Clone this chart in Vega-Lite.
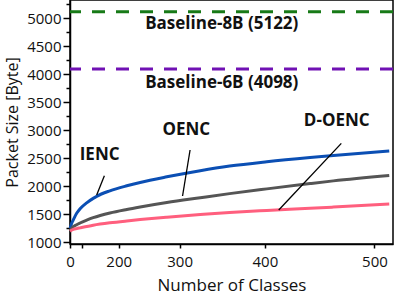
{
  "$schema": "https://vega.github.io/schema/vega-lite/v6.json",
  "width": 323,
  "height": 244,
  "autosize": "none",
  "padding": {"left": 70, "top": 0, "right": 2, "bottom": 54},
  "config": {
    "font": "Open Sans",
    "view": {"stroke": "#000", "strokeWidth": 1.5},
    "axis": {
      "grid": false,
      "domainColor": "#000",
      "domainWidth": 1.5,
      "tickColor": "#000",
      "tickWidth": 1.5,
      "labelColor": "#111",
      "titleColor": "#111",
      "labelFontSize": 15,
      "titleFontSize": 16,
      "titleFontWeight": "normal",
      "labelFlush": false,
      "labelOverlap": false
    }
  },
  "datasets": {
    "curves": [
      {"series": "IENC", "x": 2, "y": 1250},
      {"series": "IENC", "x": 24, "y": 1279},
      {"series": "IENC", "x": 37, "y": 1340},
      {"series": "IENC", "x": 52, "y": 1400},
      {"series": "IENC", "x": 74, "y": 1519},
      {"series": "IENC", "x": 91, "y": 1600},
      {"series": "IENC", "x": 117, "y": 1705},
      {"series": "IENC", "x": 138, "y": 1785},
      {"series": "IENC", "x": 148, "y": 1822},
      {"series": "IENC", "x": 181, "y": 1920},
      {"series": "IENC", "x": 216, "y": 2010},
      {"series": "IENC", "x": 240, "y": 2070},
      {"series": "IENC", "x": 282, "y": 2170},
      {"series": "IENC", "x": 327, "y": 2280},
      {"series": "IENC", "x": 362, "y": 2362},
      {"series": "IENC", "x": 402, "y": 2440},
      {"series": "IENC", "x": 444, "y": 2516},
      {"series": "IENC", "x": 465, "y": 2553},
      {"series": "IENC", "x": 512, "y": 2632},
      {"series": "OENC", "x": 2, "y": 1212},
      {"series": "OENC", "x": 24, "y": 1228},
      {"series": "OENC", "x": 37, "y": 1248},
      {"series": "OENC", "x": 52, "y": 1279},
      {"series": "OENC", "x": 74, "y": 1315},
      {"series": "OENC", "x": 91, "y": 1345},
      {"series": "OENC", "x": 117, "y": 1395},
      {"series": "OENC", "x": 138, "y": 1440},
      {"series": "OENC", "x": 181, "y": 1525},
      {"series": "OENC", "x": 216, "y": 1588},
      {"series": "OENC", "x": 240, "y": 1632},
      {"series": "OENC", "x": 282, "y": 1712},
      {"series": "OENC", "x": 327, "y": 1797},
      {"series": "OENC", "x": 362, "y": 1870},
      {"series": "OENC", "x": 402, "y": 1955},
      {"series": "OENC", "x": 444, "y": 2050},
      {"series": "OENC", "x": 465, "y": 2098},
      {"series": "OENC", "x": 512, "y": 2194},
      {"series": "D-OENC", "x": 2, "y": 1200},
      {"series": "D-OENC", "x": 24, "y": 1208},
      {"series": "D-OENC", "x": 52, "y": 1230},
      {"series": "D-OENC", "x": 74, "y": 1245},
      {"series": "D-OENC", "x": 91, "y": 1258},
      {"series": "D-OENC", "x": 138, "y": 1305},
      {"series": "D-OENC", "x": 181, "y": 1348},
      {"series": "D-OENC", "x": 216, "y": 1382},
      {"series": "D-OENC", "x": 240, "y": 1406},
      {"series": "D-OENC", "x": 282, "y": 1448},
      {"series": "D-OENC", "x": 327, "y": 1495},
      {"series": "D-OENC", "x": 362, "y": 1533},
      {"series": "D-OENC", "x": 402, "y": 1570},
      {"series": "D-OENC", "x": 444, "y": 1608},
      {"series": "D-OENC", "x": 465, "y": 1630},
      {"series": "D-OENC", "x": 512, "y": 1685}
    ],
    "baselines": [
      {"series": "Baseline-8B", "y": 5122},
      {"series": "Baseline-6B", "y": 4098}
    ],
    "annots": [
      {"label": "IENC", "x": 148, "y": 1846},
      {"label": "IENC", "x": 168, "y": 2190},
      {"label": "OENC", "x": 304, "y": 1828},
      {"label": "OENC", "x": 314, "y": 2650},
      {"label": "D-OENC", "x": 414, "y": 1578},
      {"label": "D-OENC", "x": 472, "y": 2769}
    ],
    "labels": [
      {"text": "IENC", "x": 156, "y": 2560},
      {"text": "OENC", "x": 309, "y": 3007},
      {"text": "D-OENC", "x": 468, "y": 3168},
      {"text": "Baseline-8B (5122)", "x": 353, "y": 4910},
      {"text": "Baseline-6B (4098)", "x": 353, "y": 3850}
    ],
    "minor": [
      {"y": 1250}, {"y": 1750}, {"y": 2250}, {"y": 2750}, {"y": 3250},
      {"y": 3750}, {"y": 4250}, {"y": 4750}, {"y": 5250}
    ]
  },
  "layer": [
    {
      "encoding": {
        "x": {
          "field": "x",
          "type": "quantitative",
          "scale": {"type": "pow", "exponent": 2, "domain": [0, 515], "nice": false, "zero": false},
          "axis": {
            "values": [0, 100, 200, 300, 400, 500],
            "labelExpr": "datum.value == 100 ? '' : datum.label",
            "tickSize": 4,
            "labelPadding": 6,
            "title": "Number of Classes",
            "titleFontSize": 17,
            "titlePadding": 8
          }
        },
        "y": {
          "field": "y",
          "type": "quantitative",
          "scale": {"domain": [970, 5330], "nice": false, "zero": false},
          "axis": {
            "values": [1000, 1500, 2000, 2500, 3000, 3500, 4000, 4500, 5000],
            "format": "d",
            "tickSize": 7,
            "labelPadding": 2,
            "title": "Packet Size [Byte]",
            "titlePadding": 6
          }
        }
      },
      "layer": [
        {
          "data": {"name": "baselines"},
          "mark": {"type": "rule", "strokeWidth": 3, "strokeDash": [13, 11]},
          "encoding": {
            "x": null,
            "color": {
              "field": "series",
              "type": "nominal",
              "scale": {
                "domain": ["IENC", "OENC", "D-OENC", "Baseline-8B", "Baseline-6B"],
                "range": ["#0b4fb4", "#555555", "#ff5f7e", "#177a17", "#7011b4"]
              },
              "legend": null
            }
          }
        },
        {
          "data": {"name": "curves"},
          "mark": {"type": "line", "strokeWidth": 3, "interpolate": "monotone"},
          "encoding": {
            "color": {
              "field": "series",
              "type": "nominal",
              "scale": {
                "domain": ["IENC", "OENC", "D-OENC", "Baseline-8B", "Baseline-6B"],
                "range": ["#0b4fb4", "#555555", "#ff5f7e", "#177a17", "#7011b4"]
              },
              "legend": null
            }
          }
        },
        {
          "data": {"name": "annots"},
          "mark": {"type": "line", "color": "#000", "strokeWidth": 1.3},
          "encoding": {"detail": {"field": "label"}}
        },
        {
          "data": {"name": "labels"},
          "mark": {"type": "text", "fontSize": 17, "fontWeight": "bold", "color": "#111", "align": "center", "baseline": "middle"},
          "encoding": {"text": {"field": "text"}}
        }
      ]
    },
    {
      "data": {"name": "minor"},
      "mark": {"type": "rule", "strokeOpacity": 0},
      "encoding": {
        "y": {
          "field": "y",
          "type": "quantitative",
          "scale": {"domain": [970, 5330], "nice": false, "zero": false},
          "axis": {
            "orient": "left",
            "values": [1250, 1750, 2250, 2750, 3250, 3750, 4250, 4750, 5250],
            "tickSize": 4,
            "labels": false,
            "domain": false,
            "title": null
          }
        }
      }
    }
  ],
  "resolve": {"axis": {"y": "independent"}}
}
